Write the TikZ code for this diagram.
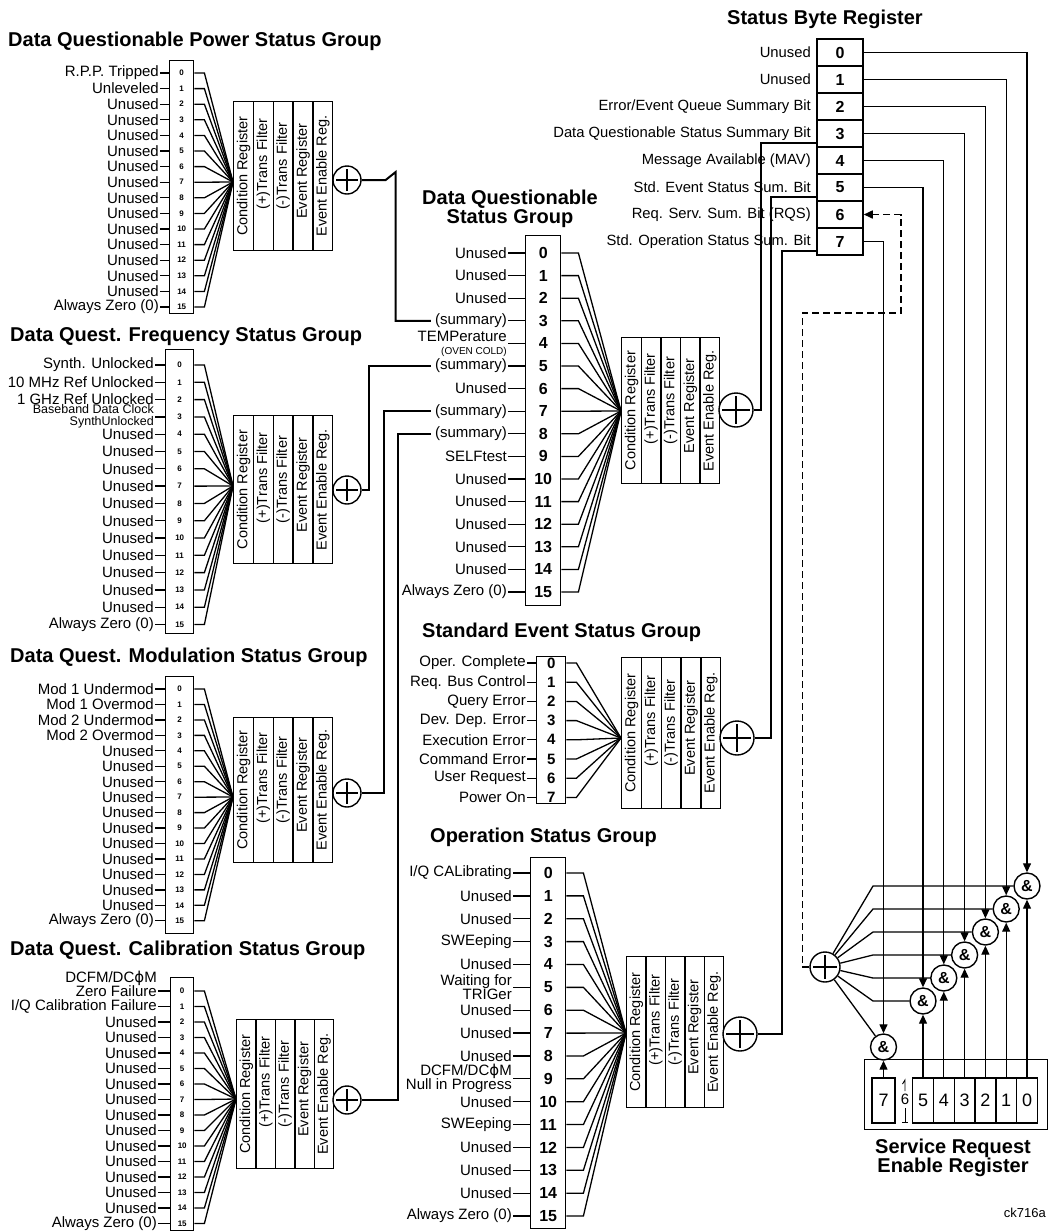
\documentclass[tikz,border=0pt]{standalone}
\usepackage{fontspec}
\setmainfont{Liberation Sans}
\newfontfamily\dvsfont{DejaVu Sans}
\usetikzlibrary{arrows.meta,calc}
\newcommand{\phisym}{{\dvsfont ϕ}}
% register block: name, x0, y0, column width, height
\newcommand{\mkreg}[5]{%
  \foreach \rtxt/\rsh [count=\j from 1] in {Condition Register/0,(+)Trans Filter/12,(-)Trans Filter/10,Event Register/5,Event Enable Reg./0}{%
    \node[regcol, minimum width=#4pt, minimum height=#5pt, anchor=north west] (#1-c\j) at ({#2+#4*(\j-1)},#3) {};
    \node[regtxt] (#1-x\j) at ($(#1-c\j.center)+(0,-\rsh)$) {\rtxt};
  }}
% rows: name, row0 y, spacing, label end x, knee, digit style, labels
\newcommand{\mkrows}[7]{%
  \foreach \lab [count=\i from 0] in {#7}{%
    \coordinate (#1-r\i) at (#4,{#2+#3*\i});
    \node[lbl] (#1-l\i) at (#1-r\i) {\lab};
    \node[#6] (#1-d\i) at (#1-r\i -| #1-box.center) {\i};
    \draw[wire] (#1-r\i) -- (#1-r\i -| #1-box.west);
    \draw[wire] (#1-r\i -| #1-box.east) -- ++(#5,0) -- (#1-cv);
  }}
\newcommand{\bbclock}{{\fontsize{12.5}{11}\selectfont\raisebox{-2.5pt}{\begin{tabular}{@{}r@{}}Baseband Data Clock\\SynthUnlocked\end{tabular}}}}
\begin{document}
\begin{tikzpicture}[x=1pt,y=-1pt,
  lbl/.style={font=\fontsize{15}{13}\selectfont, align=right, inner sep=1pt, anchor=east},
  sbl/.style={font=\fontsize{14.8}{14}\selectfont, inner sep=1pt, anchor=east},
  ttl/.style={font=\fontsize{20}{17.5}\selectfont\bfseries, inner sep=0pt, align=center},
  dig/.style={font=\fontsize{8}{8}\selectfont\bfseries, inner sep=0pt},
  bigdig/.style={font=\fontsize{16}{16}\selectfont\bfseries, inner sep=0pt},
  meddig/.style={font=\fontsize{15}{15}\selectfont\bfseries, inner sep=0pt},
  bitbox/.style={draw, line width=1.4pt, inner sep=0pt},
  regcol/.style={draw, line width=1.4pt, inner sep=0pt},
  regtxt/.style={rotate=90, font=\fontsize{14.5}{14}\selectfont, inner sep=0pt},
  wire/.style={line width=1.3pt},
  bus/.style={line width=2pt},
  orgate/.style={circle, draw, line width=1.4pt, inner sep=0pt, fill=white,
    path picture={\draw[line width=1.8pt]
      ([xshift=3pt]path picture bounding box.west) -- ([xshift=-3pt]path picture bounding box.east)
      ([yshift=-3pt]path picture bounding box.north) -- ([yshift=3pt]path picture bounding box.south);}},
  andgate/.style={circle, draw, line width=1.4pt, inner sep=0pt, minimum size=26pt, fill=white, font=\fontsize{16}{16}\selectfont\bfseries},
  sbcell/.style={draw, line width=1.5pt, inner sep=0pt, minimum width=46pt, minimum height=27pt, font=\fontsize{16}{16}\selectfont\bfseries},
  srecell/.style={draw, line width=1.4pt, inner sep=0pt, minimum height=45pt, font=\fontsize{18}{18}\selectfont},
  arr/.style={-{Triangle[length=9pt,width=8pt]}},
  dline/.style={line width=1.6pt, dash pattern=on 7pt off 4pt},
]
\fill[white] (0,0) rectangle (1049,1232);
\useasboundingbox (0,0) rectangle (1049,1232);

% ---------- Group 1: Power ----------
\node[ttl, anchor=west] (g1-t) at (8,41) {Data Questionable Power Status Group};
\node[bitbox, minimum width=24pt, minimum height=253pt, anchor=north west] (g1-box) at (169,60) {};
\coordinate (g1-cv) at (233,182);
\mkreg{g1}{233}{101}{19.8}{149}
\node[orgate, minimum size=28pt] (g1-or) at (347,180) {};
\mkrows{g1}{73}{15.6}{160}{10}{dig}{R.P.P. Tripped,Unleveled,Unused,Unused,Unused,Unused,Unused,Unused,Unused,Unused,Unused,Unused,Unused,Unused,Unused,Always Zero (0)}

% ---------- Group 2: Frequency ----------
\node[ttl, anchor=west] (g2-t) at (10,337) {Data Quest. Frequency Status Group};
\node[bitbox, minimum width=28pt, minimum height=284pt, anchor=north west] (g2-box) at (165,349) {};
\coordinate (g2-cv) at (233,486);
\mkreg{g2}{233}{415}{19.8}{148}
\node[orgate, minimum size=28pt] (g2-or) at (347,490) {};
\mkrows{g2}{365}{17.3}{155}{10}{dig}{Synth. Unlocked,10 MHz Ref Unlocked,1 GHz Ref Unlocked,\bbclock,Unused,Unused,Unused,Unused,Unused,Unused,Unused,Unused,Unused,Unused,Unused,Always Zero (0)}

% ---------- Group 3: Modulation ----------
\node[ttl, anchor=west] (g3-t) at (10,657) {Data Quest. Modulation Status Group};
\node[bitbox, minimum width=28pt, minimum height=257pt, anchor=north west] (g3-box) at (165,676) {};
\coordinate (g3-cv) at (233,797);
\mkreg{g3}{233}{717}{19.8}{145}
\node[orgate, minimum size=28pt] (g3-or) at (347,793) {};
\mkrows{g3}{689}{15.45}{155}{10}{dig}{Mod 1 Undermod,Mod 1 Overmod,Mod 2 Undermod,Mod 2 Overmod,Unused,Unused,Unused,Unused,Unused,Unused,Unused,Unused,Unused,Unused,Unused,Always Zero (0)}

% ---------- Group 4: Calibration ----------
\node[ttl, anchor=west] (g4-t) at (10,950) {Data Quest. Calibration Status Group};
\node[bitbox, minimum width=23pt, minimum height=253pt, anchor=north west] (g4-box) at (170,977) {};
\coordinate (g4-cv) at (236,1099);
\mkreg{g4}{236}{1019}{19.4}{149}
\node[orgate, minimum size=28pt] (g4-or) at (347,1100) {};
\mkrows{g4}{991}{15.5}{158}{10}{dig}{{Zero Failure\makebox[0pt][r]{\raisebox{14pt}[0pt][0pt]{DCFM/DC\phisym M}}},I/Q Calibration Failure,Unused,Unused,Unused,Unused,Unused,Unused,Unused,Unused,Unused,Unused,Unused,Unused,Unused,Always Zero (0)}

% ---------- Group 5: Data Questionable ----------
\node[ttl] (g5-t) at (510,209) {Data Questionable\\Status Group};
\node[bitbox, minimum width=35pt, minimum height=370pt, anchor=north west] (g5-box) at (525,235) {};
\coordinate (g5-cv) at (621,411);
\mkreg{g5}{621}{337}{19.6}{146}
\node[orgate, minimum size=34pt] (g5-or) at (736,410) {};
\mkrows{g5}{253}{22.6}{508}{17}{bigdig}{Unused,Unused,Unused,(summary),{TEMPerature\\{\fontsize{10}{10}\selectfont (OVEN COLD)}},(summary),Unused,(summary),(summary),SELFtest,Unused,Unused,Unused,Unused,Unused,Always Zero (0)}

% ---------- Group 6: Standard Event ----------
\node[ttl, anchor=west] (g6-t) at (422,632) {Standard Event Status Group};
\node[bitbox, minimum width=29pt, minimum height=147pt, anchor=north west] (g6-box) at (536,656) {};
\coordinate (g6-cv) at (621,738);
\mkreg{g6}{621}{657}{19.8}{151}
\node[orgate, minimum size=34pt] (g6-or) at (737,738) {};
\mkrows{g6}{663}{19.2}{527}{10}{meddig}{Oper. Complete,Req. Bus Control,Query Error,Dev. Dep. Error,Execution Error,Command Error,User Request,Power On}

% ---------- Group 7: Operation ----------
\node[ttl, anchor=west] (g7-t) at (430,837) {Operation Status Group};
\node[bitbox, minimum width=35pt, minimum height=371pt, anchor=north west] (g7-box) at (530,857) {};
\coordinate (g7-cv) at (626,1033);
\mkreg{g7}{626}{956}{19.4}{151}
\node[orgate, minimum size=34pt] (g7-or) at (740,1034) {};
\mkrows{g7}{873}{22.87}{513}{17}{bigdig}{I/Q CALibrating,Unused,Unused,SWEeping,Unused,{Waiting for\\[-1pt]TRIGer},Unused,Unused,Unused,{DCFM/DC\phisym M\\[-1pt]Null in Progress},Unused,SWEeping,Unused,Unused,Unused,Always Zero (0)}

% ---------- Status Byte Register ----------
\node[ttl] (sb-t) at (825,19) {Status Byte Register};
\foreach \lab [count=\i from 0] in {Unused,Unused,Error/Event Queue Summary Bit,Data Questionable Status Summary Bit,Message Available (MAV),Std. Event Status Sum. Bit,Req. Serv. Sum. Bit (RQS),Std. Operation Status Sum. Bit}{
  \node[sbcell] (sb\i) at (840,{52.5+27*\i}) {\i};
  \node[sbl] (sbl\i) at (812,{52.5+27*\i}) {\lab};
}

% ---------- summary buses ----------
\draw[bus] (g1-or.east) -- ++(24,0) -- ++(10,-8) |- ([xshift=-3pt]g5-l3.west);
\draw[bus] (g2-or.east) -- ++(7,0) |- ([xshift=-3pt]g5-l5.west);
\draw[bus] (g3-or.east) -- ++(22,0) |- ([xshift=-3pt]g5-l7.west);
\draw[bus] (g4-or.east) -- ++(36,0) |- ([xshift=-3pt]g5-l8.west);
\draw[bus] (g5-or.east) -- ++(7,0) |- ([yshift=-9pt]sb3.west);
\draw[bus] (g6-or.east) -- ++(16,0) |- ([yshift=-9pt]sb5.west);
\draw[bus] (g7-or.east) -- ++(24,0) |- ([yshift=-9pt]sb7.west);

% ---------- Service Request Enable ----------
\node[draw, line width=1.4pt, inner sep=0pt, minimum width=183pt, minimum height=70pt, anchor=north west] (sre) at (864,1059) {};
\node[orgate, minimum size=30pt] (orq) at (825,967) {};
\foreach \b in {0,...,5}{
  \node[andgate] (ag\b) at ({1027-20.8*\b},{886+23*\b}) {\&};
  \node[srecell, minimum width=20.8pt] (sre\b) at ({1027-20.8*\b},1100.5) {\b};
}
\node[andgate] (ag7) at (883.5,1047) {\&};
\node[srecell, minimum width=23pt] (sre7) at (883.5,1100.5) {7};
\node[font=\fontsize{15}{15}\selectfont, inner sep=0pt] (sre6) at (905,1099) {6};
\draw[line width=0.9pt] (902.5,1084) -- (905,1080) -- (905,1091);
\draw[line width=0.9pt] (905,1108) -- (905,1122) (902,1122) -- (908,1122);

\foreach \b in {0,...,5}{
  \coordinate (fan\b) at (873,{886+23*\b});
  \draw[wire,arr] (sb\b.east) -| (ag\b.north);
  \draw[wire,arr] (sre\b.north) -- (ag\b.south);
  \draw[wire] (orq) -- (fan\b) -- (ag\b.west);
}
\draw[wire,arr] (sb7.east) -| (ag7.north);
\draw[wire,arr] (sre7.north) -- (ag7.south);
\draw[wire] (orq) -- (ag7);
\coordinate (dcorner) at (901,313);
\draw[dline,arr] (orq.west) -- ++(-7,0) |- (dcorner) |- (sb6.east);

\node[ttl] (sre-t) at (953,1158) {Service Request\\Enable Register};
\node[font=\fontsize{13}{13}\selectfont, inner sep=0pt, anchor=east] (ck) at (1046,1213) {ck716a};
\end{tikzpicture}
\end{document}
